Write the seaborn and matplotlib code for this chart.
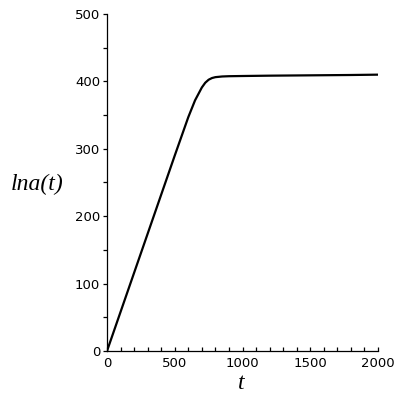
import matplotlib
matplotlib.use("Agg")
import matplotlib.pyplot as plt
import seaborn as sns
import pandas as pd
from matplotlib.ticker import MultipleLocator

t_vals = [0, 100, 200, 300, 400, 500, 600, 650, 700, 725, 750, 775, 800, 850, 900, 1000, 1200, 1500, 1800, 2000]
lna_vals = [0, 58, 116, 174, 232, 290, 347, 372, 391, 398, 402.5, 405, 406.3, 407.3, 407.7, 408, 408.5, 409, 409.5, 410]

df = pd.DataFrame({"t": t_vals, "lna": lna_vals})

sns.set_style("white")
plt.rcParams["text.color"] = "black"
plt.rcParams["axes.labelcolor"] = "black"
plt.rcParams["xtick.color"] = "black"
plt.rcParams["ytick.color"] = "black"

fig = plt.figure(figsize=(4, 4), dpi=100)
ax = fig.add_axes([0.2675, 0.1225, 0.6775, 0.8425])
sns.lineplot(data=df, x="t", y="lna", ax=ax, color="black", linewidth=1.6)

ax.set_xlim(0, 2000)
ax.set_ylim(0, 500)
for s in ["top", "right"]:
    ax.spines[s].set_visible(False)
for s in ["left", "bottom"]:
    ax.spines[s].set_color("black")
    ax.spines[s].set_linewidth(0.9)

ax.xaxis.set_major_locator(MultipleLocator(500))
ax.xaxis.set_minor_locator(MultipleLocator(100))
ax.yaxis.set_major_locator(MultipleLocator(100))
ax.yaxis.set_minor_locator(MultipleLocator(50))
ax.tick_params(axis="x", which="both", direction="in", length=3, width=0.9, color="black", labelcolor="black", labelsize=9.5, pad=4)
ax.tick_params(axis="y", which="both", direction="out", length=3, width=0.9, color="black", labelcolor="black", labelsize=9.5, pad=2)
ax.tick_params(axis="x", which="both", bottom=True)
ax.tick_params(axis="y", which="both", left=True)

ax.set_xlabel("t", fontsize=17, family="Liberation Serif", style="italic", va="center", color="black")
ax.set_ylabel("lna(t)", fontsize=17, family="Liberation Serif", style="italic", rotation=0, ha="center", va="center", color="black")
ax.yaxis.set_label_coords(-0.258, 0.495)
ax.xaxis.set_label_coords(0.495, -0.095)

fig.savefig("out.png", dpi=100)
